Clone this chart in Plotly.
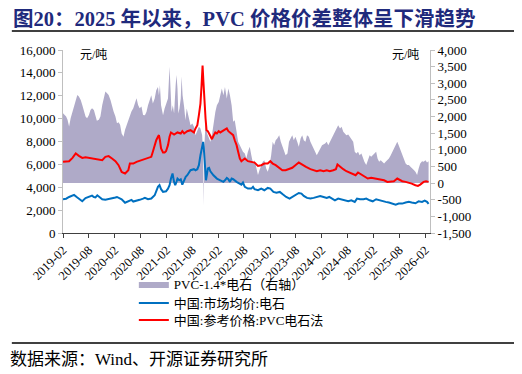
import plotly.graph_objects as go

# ---------------- data ----------------
red_dates = [
    "2019-02-01","2019-02-23","2019-03-16","2019-04-09","2019-05-02","2019-05-24","2019-06-17","2019-07-10",
    "2019-08-03","2019-08-25","2019-09-18","2019-10-12","2019-11-05","2019-11-27","2019-12-20","2020-01-13",
    "2020-02-06","2020-02-28","2020-03-21","2020-04-14","2020-05-07","2020-05-18","2020-06-11","2020-07-04",
    "2020-07-26","2020-08-19","2020-09-23","2020-10-16","2020-10-27","2020-11-09","2020-11-20","2020-12-02",
    "2020-12-09","2020-12-16","2020-12-24","2021-01-07","2021-01-18","2021-01-28","2021-02-11","2021-02-22",
    "2021-03-04","2021-03-26","2021-04-19","2021-05-12","2021-05-23","2021-06-05","2021-06-27","2021-07-20",
    "2021-08-13","2021-08-24","2021-09-06","2021-09-17","2021-09-28","2021-10-06","2021-10-13","2021-10-19",
    "2021-10-26","2021-11-03","2021-11-10","2021-11-19","2021-11-28","2021-12-07","2021-12-18","2021-12-29",
    "2022-01-11","2022-01-22","2022-02-04","2022-02-15","2022-03-09","2022-04-02","2022-04-13","2022-04-24",
    "2022-05-17","2022-05-28","2022-06-10","2022-06-21","2022-07-03","2022-07-14","2022-07-25","2022-08-07",
    "2022-08-29","2022-09-22","2022-10-15","2022-11-08","2022-12-01","2022-12-23","2023-01-16","2023-02-03",
    "2023-02-20","2023-03-13","2023-04-07","2023-04-29","2023-05-22","2023-06-15","2023-07-08","2023-07-30",
    "2023-08-23","2023-09-05","2023-09-20","2023-10-13","2023-11-13","2023-12-06","2023-12-28","2024-01-21",
    "2024-02-14","2024-03-07","2024-03-29","2024-04-22","2024-05-11","2024-05-22","2024-06-09","2024-07-02",
    "2024-07-24","2024-08-17","2024-09-10","2024-09-27","2024-10-14","2024-11-07","2024-11-28","2024-12-22",
    "2025-01-15","2025-02-08","2025-03-01","2025-03-23","2025-04-16","2025-05-09","2025-06-02","2025-06-24",
    "2025-07-18","2025-08-04","2025-08-22","2025-09-15","2025-10-08","2025-10-28","2025-11-23","2025-12-11",
    "2025-12-27","2026-01-20","2026-02-06","2026-02-24",
]
red_vals = [
    6220,6220,6280,6570,6950,6750,6570,6630,
    6570,6510,6510,6450,6370,6660,6720,6510,
    6280,5930,5340,5200,5490,6070,6070,6220,
    6310,6370,6510,6660,7100,7680,8110,8410,
    8560,8110,7390,7040,7040,7150,7680,8410,
    8790,8610,8790,8700,8900,8700,8900,8990,
    8790,9140,9430,10300,11320,12930,14630,13230,
    11180,10010,8990,8900,8700,8410,8200,8500,
    8790,8700,8900,8790,8990,9140,8900,8790,
    8560,8110,7680,7100,6510,6280,6360,6510,
    6280,6220,6160,5870,5930,6070,6070,6280,
    6070,5930,5700,5490,5490,5580,5700,5930,
    6160,6070,5930,5780,5580,5490,5400,5490,
    5400,5490,5400,5490,5580,5990,5780,5580,
    5400,5290,5110,5050,5290,5110,4910,4760,
    4820,4760,4760,4700,4610,4470,4470,4530,
    4760,4610,4530,4470,4410,4320,4180,4120,
    4230,4470,4530,4470,
]

blue_dates = [
    "2019-02-01","2019-02-23","2019-03-16","2019-04-09","2019-04-20","2019-05-13","2019-06-06","2019-06-17",
    "2019-07-10","2019-08-03","2019-08-25","2019-09-07","2019-09-18","2019-10-01","2019-10-12","2019-11-05",
    "2019-11-27","2019-12-20","2020-01-13","2020-02-06","2020-02-17","2020-03-10","2020-03-21","2020-04-14",
    "2020-05-07","2020-05-29","2020-06-11","2020-07-04","2020-07-26","2020-08-19","2020-09-01","2020-09-23",
    "2020-10-16","2020-11-09","2020-11-20","2020-12-02","2020-12-13","2020-12-24","2021-01-07","2021-01-28",
    "2021-02-11","2021-02-22","2021-03-04","2021-03-15","2021-03-26","2021-04-03","2021-04-12","2021-04-19",
    "2021-05-01","2021-05-12","2021-05-23","2021-06-05","2021-06-16","2021-06-27","2021-07-09","2021-07-20",
    "2021-08-13","2021-08-24","2021-09-06","2021-09-17","2021-09-28","2021-10-10","2021-10-17","2021-10-21",
    "2021-10-28","2021-11-06","2021-11-10","2021-11-19","2021-11-28","2021-12-07","2021-12-29","2022-01-22",
    "2022-02-15","2022-03-09","2022-03-20","2022-04-02","2022-04-13","2022-04-24","2022-05-06","2022-05-17",
    "2022-06-10","2022-07-03","2022-07-14","2022-07-25","2022-08-07","2022-08-29","2022-09-22","2022-10-04",
    "2022-10-15","2022-11-08","2022-12-01","2022-12-23","2023-01-16","2023-02-03","2023-02-25","2023-03-18",
    "2023-04-11","2023-05-04","2023-05-26","2023-06-19","2023-07-08","2023-07-30","2023-08-23","2023-09-11",
    "2023-09-27","2023-10-20","2023-11-13","2023-12-06","2023-12-28","2024-01-21","2024-02-14","2024-03-07",
    "2024-03-25","2024-04-11","2024-05-04","2024-05-27","2024-06-20","2024-07-13","2024-08-06","2024-08-28",
    "2024-09-21","2024-10-07","2024-10-28","2024-11-22","2024-12-11","2025-01-04","2025-01-26","2025-02-19",
    "2025-03-12","2025-04-05","2025-04-27","2025-05-20","2025-06-13","2025-07-07","2025-07-28","2025-08-22",
    "2025-09-15","2025-10-08","2025-10-28","2025-11-23","2025-12-16","2026-01-09","2026-01-27","2026-02-13",
    "2026-02-24",
]
blue_vals = [
    2950,3000,3150,3300,3330,3100,2900,2780,
    3050,3200,3270,3150,3120,3300,3200,2950,
    2900,2950,3000,3100,3150,3000,2950,2650,
    2800,2900,2750,2800,2900,3000,3070,2950,
    3010,3300,3740,4030,4180,3830,3590,3650,
    3880,4180,4760,5200,4470,4180,4470,4760,
    4610,4700,4230,4610,4910,5050,5280,5490,
    5580,5490,5580,5930,6800,7820,7970,7530,
    6360,4610,4910,5640,5690,5400,5050,4760,
    4610,4470,4610,4820,4700,4470,4760,4700,
    4470,4320,4230,4410,4030,3880,3880,4030,
    3830,3740,3880,3740,3940,3880,3590,3530,
    3590,3360,3150,3010,3150,3300,3500,3450,
    3240,3070,3010,3070,3150,3240,3150,3070,
    3150,3010,2860,3010,2950,2860,2770,2860,
    2720,3010,2950,2950,3010,2860,2770,2950,
    2860,2770,2720,2660,2540,2480,2570,2570,
    2660,2720,2660,2600,2770,2720,2830,2720,
    2540,
]

spread_dates = [
    "2019-02-01","2019-02-12","2019-02-23","2019-03-05","2019-03-16","2019-03-27","2019-04-09","2019-04-20",
    "2019-05-02","2019-05-13","2019-05-24","2019-06-06","2019-06-17","2019-06-28","2019-07-10","2019-07-21",
    "2019-08-03","2019-08-14","2019-08-25","2019-09-07","2019-09-18","2019-09-28","2019-10-12","2019-10-23",
    "2019-11-05","2019-11-16","2019-11-27","2019-12-09","2019-12-20","2020-01-02","2020-01-13","2020-01-24",
    "2020-02-06","2020-02-17","2020-02-28","2020-03-10","2020-03-21","2020-04-03","2020-04-14","2020-04-25",
    "2020-05-07","2020-05-18","2020-05-29","2020-06-11","2020-06-22","2020-07-04","2020-07-15","2020-07-26",
    "2020-08-08","2020-08-19","2020-09-01","2020-09-12","2020-09-23","2020-10-05","2020-10-16","2020-10-27",
    "2020-11-09","2020-11-20","2020-12-02","2020-12-09","2020-12-16","2020-12-24","2021-01-07","2021-01-18",
    "2021-01-28","2021-02-11","2021-02-22","2021-02-28","2021-03-08","2021-03-17","2021-03-26","2021-04-06",
    "2021-04-12","2021-04-19","2021-04-25","2021-05-03","2021-05-12","2021-05-18","2021-05-25","2021-06-05",
    "2021-06-14","2021-06-23","2021-07-02","2021-07-11","2021-07-20","2021-08-02","2021-08-13","2021-08-24",
    "2021-09-06","2021-09-17","2021-09-28","2021-10-10","2021-10-17","2021-10-21","2021-10-26","2021-11-03",
    "2021-11-14","2021-11-25","2021-12-07","2021-12-18","2021-12-29","2022-01-11","2022-01-22","2022-02-04",
    "2022-02-15","2022-02-26","2022-03-09","2022-03-20","2022-04-02","2022-04-13","2022-04-24","2022-05-06",
    "2022-05-17","2022-05-28","2022-06-10","2022-06-21","2022-07-03","2022-07-14","2022-07-25","2022-08-07",
    "2022-08-18","2022-08-29","2022-09-11","2022-09-22","2022-10-04","2022-10-15","2022-10-26","2022-11-08",
    "2022-11-19","2022-12-01","2022-12-12","2022-12-23","2023-01-05","2023-01-16","2023-01-27","2023-02-09",
    "2023-02-20","2023-03-02","2023-03-13","2023-03-24","2023-04-07","2023-04-18","2023-04-29","2023-05-11",
    "2023-05-22","2023-06-04","2023-06-15","2023-06-26","2023-07-08","2023-07-19","2023-07-30","2023-08-12",
    "2023-08-23","2023-09-05","2023-09-16","2023-09-27","2023-10-09","2023-10-20","2023-11-02","2023-11-13",
    "2023-11-24","2023-12-06","2023-12-17","2023-12-28","2024-01-10","2024-01-21","2024-02-03","2024-02-25",
    "2024-03-07","2024-03-18","2024-03-29","2024-04-11","2024-04-22","2024-05-04","2024-05-16","2024-05-27",
    "2024-06-09","2024-06-20","2024-07-02","2024-07-13","2024-07-24","2024-08-06","2024-08-17","2024-09-10",
    "2024-09-21","2024-10-03","2024-10-14","2024-10-25","2024-11-07","2024-11-18","2024-11-28","2024-12-11",
    "2024-12-22","2025-01-04","2025-01-15","2025-01-26","2025-02-08","2025-02-19","2025-03-01","2025-03-12",
    "2025-03-23","2025-04-05","2025-04-16","2025-04-27","2025-05-20","2025-06-02","2025-06-13","2025-06-24",
    "2025-07-07","2025-07-18","2025-07-28","2025-08-11","2025-08-22","2025-09-04","2025-09-15","2025-09-26",
    "2025-10-08","2025-10-19","2025-10-28","2025-11-12","2025-11-23","2025-12-05","2025-12-16","2025-12-27",
    "2026-01-09","2026-01-20","2026-02-02","2026-02-13","2026-02-24",
]
spread_vals = [
    2100,2050,2000,1900,1700,1950,2150,2350,
    2550,2650,2600,2500,2350,2150,2000,1950,
    2050,2200,2250,2200,2030,1870,1900,2000,
    2350,2600,2750,2700,2650,2500,2300,2150,
    2000,1800,1830,1750,1490,1390,1600,1750,
    1850,2050,2150,2250,2400,2550,2350,2250,
    2300,2050,2040,2140,2340,2540,2640,2390,
    2540,2790,2890,2640,2940,2340,2040,2240,
    2390,2540,3500,3040,2140,2340,2090,2940,
    3250,2840,2090,2240,2540,3200,2640,2290,
    1890,2240,2040,1840,1740,1790,1690,1440,
    1590,1690,1640,1440,840,-670,1140,1840,
    1490,1340,1240,1440,1840,2140,2340,2440,
    2640,2840,2640,2890,2540,2840,2640,2340,
    1840,1890,1540,1240,1140,1040,940,890,
    740,940,1090,840,590,690,490,240,
    390,540,640,690,440,340,490,840,
    1240,1140,1290,1340,1440,1240,1090,940,
    840,890,1240,1340,1440,1290,1390,1240,
    1090,1340,1440,1290,1240,1440,1390,1240,
    1140,1040,890,840,940,1040,1140,1190,
    1240,1140,1240,1340,1440,1540,1640,1740,
    1640,1690,1540,1490,1440,1460,1390,1240,
    940,890,940,840,890,740,640,540,
    690,840,790,840,890,940,740,640,
    690,640,590,640,740,840,940,1040,
    1190,1240,1140,990,840,690,590,540,
    540,490,440,390,340,240,440,590,
    660,640,690,620,660,
]

x_tick_dates = ["2019-02-01","2019-08-01","2020-02-01","2020-08-01","2021-02-01","2021-08-01","2022-02-01",
                "2022-08-01","2023-02-01","2023-08-01","2024-02-01","2024-08-01","2025-02-01","2025-08-01","2026-02-01"]
x_tick_labels = ["2019-02","2019-08","2020-02","2020-08","2021-02","2021-08","2022-02",
                 "2022-08","2023-02","2023-08","2024-02","2024-08","2025-02","2025-08","2026-02"]
left_ticks = [0, 2000, 4000, 6000, 8000, 10000, 12000, 14000, 16000]
left_tick_labels = ["0","2,000","4,000","6,000","8,000","10,000","12,000","14,000","16,000"]
right_ticks = [-1500, -1000, -500, 0, 500, 1000, 1500, 2000, 2500, 3000, 3500, 4000]
right_tick_labels = ["-1,500","-1,000","-500","0","500","1,000","1,500","2,000","2,500","3,000","3,500","4,000"]

name_spread = "PVC-1.4*电石（右轴）"
name_blue = "中国:市场均价:电石"
name_red = "中国:参考价格:PVC电石法"
title_text = "图20：2025 年以来，PVC 价格价差整体呈下滑趋势"
source_text = "数据来源：Wind、开源证券研究所"
unit_text = "元/吨"

# ---------------- figure ----------------
# page has an 8px body margin, so the figure is 8px smaller and positions below are page pixels
FONT = "Liberation Serif, Noto Sans CJK SC, serif"
W, H = 514, 366
ML, MR, MT, MB = 49, 92, 42, 141
PW, PH = W - ML - MR, H - MT - MB
PL, PB = 57, 233   # page-pixel left edge and bottom edge of the plot area

def px(xp):
    return (xp - PL) / PW

def py(yp):
    return (PB - yp) / PH

fig = go.Figure()
fig.add_trace(go.Scatter(
    x=spread_dates, y=spread_vals, name=name_spread, mode="lines",
    line=dict(width=0, color="#AFAAC8"), fill="tozeroy", fillcolor="#AFAAC8",
    yaxis="y", hoverinfo="skip", legend="legend"))
fig.add_trace(go.Scatter(
    x=blue_dates, y=blue_vals, name=name_blue, mode="lines",
    line=dict(width=2, color="#0070C0"), yaxis="y2", legend="legend2"))
fig.add_trace(go.Scatter(
    x=red_dates, y=red_vals, name=name_red, mode="lines",
    line=dict(width=2, color="#FF0000"), yaxis="y2", legend="legend3"))

leg_common = dict(xanchor="left", yanchor="middle", orientation="v", bgcolor="rgba(0,0,0,0)",
                  font=dict(family=FONT, size=13, color="#000000"), itemwidth=30, borderwidth=0)

fig.update_layout(
    width=W, height=H, autosize=False,
    margin=dict(l=ML, r=MR, t=MT, b=MB, pad=0),
    paper_bgcolor="white", plot_bgcolor="white",
    font=dict(family=FONT, size=13, color="#000000"),
    showlegend=True,
    legend=dict(x=px(129), y=py(284), **leg_common),
    legend2=dict(x=px(129), y=py(303), **leg_common),
    legend3=dict(x=px(129), y=py(320), **leg_common),
    xaxis=dict(type="date", range=["2019-02-01", "2026-03-06"],
               tickvals=x_tick_dates, ticktext=x_tick_labels, tickangle=-45,
               showgrid=False, zeroline=False, showline=True, linecolor="#404040", linewidth=1,
               ticks="outside", ticklen=4, tickcolor="#404040",
               tickfont=dict(family=FONT, size=12.5, color="#000000")),
    yaxis=dict(range=[-1500, 4000], side="right", tickvals=right_ticks, ticktext=right_tick_labels,
               showgrid=False, zeroline=False, showline=True, linecolor="#BFBFBF", linewidth=1,
               ticks="outside", ticklen=4, tickcolor="#BFBFBF",
               tickfont=dict(family=FONT, size=13, color="#000000")),
    yaxis2=dict(range=[0, 16000], side="left", overlaying="y", tickvals=left_ticks, ticktext=left_tick_labels,
                showgrid=False, zeroline=False, showline=True, linecolor="#BFBFBF", linewidth=1,
                ticks="outside", ticklen=4, tickcolor="#BFBFBF",
                tickfont=dict(family=FONT, size=13, color="#000000")),
    annotations=[
        dict(text="<b>" + title_text + "</b>", xref="paper", yref="paper", x=px(9), y=py(19),
             xanchor="left", yanchor="middle", showarrow=False, xshift=-5,
             font=dict(family=FONT, size=20.5, color="#1F2A7C")),
        dict(text=unit_text, xref="paper", yref="paper", x=px(72), y=py(55),
             xanchor="left", yanchor="middle", showarrow=False,
             font=dict(family=FONT, size=12, color="#000000")),
        dict(text=unit_text, xref="paper", yref="paper", x=px(421), y=py(55),
             xanchor="right", yanchor="middle", showarrow=False,
             font=dict(family=FONT, size=12, color="#000000")),
        dict(text=source_text, xref="paper", yref="paper", x=px(9), y=py(359),
             xanchor="left", yanchor="middle", showarrow=False, xshift=-8,
             font=dict(family=FONT, size=17, color="#000000")),
    ],
    shapes=[
        dict(type="line", xref="paper", yref="paper", x0=px(5), x1=px(516), y0=py(31), y1=py(31),
             line=dict(color="#000000", width=1.5)),
        dict(type="line", xref="paper", yref="paper", x0=px(5), x1=px(516), y0=py(343), y1=py(343),
             line=dict(color="#000000", width=1.5)),
    ],
)

fig.write_html("out.html")
